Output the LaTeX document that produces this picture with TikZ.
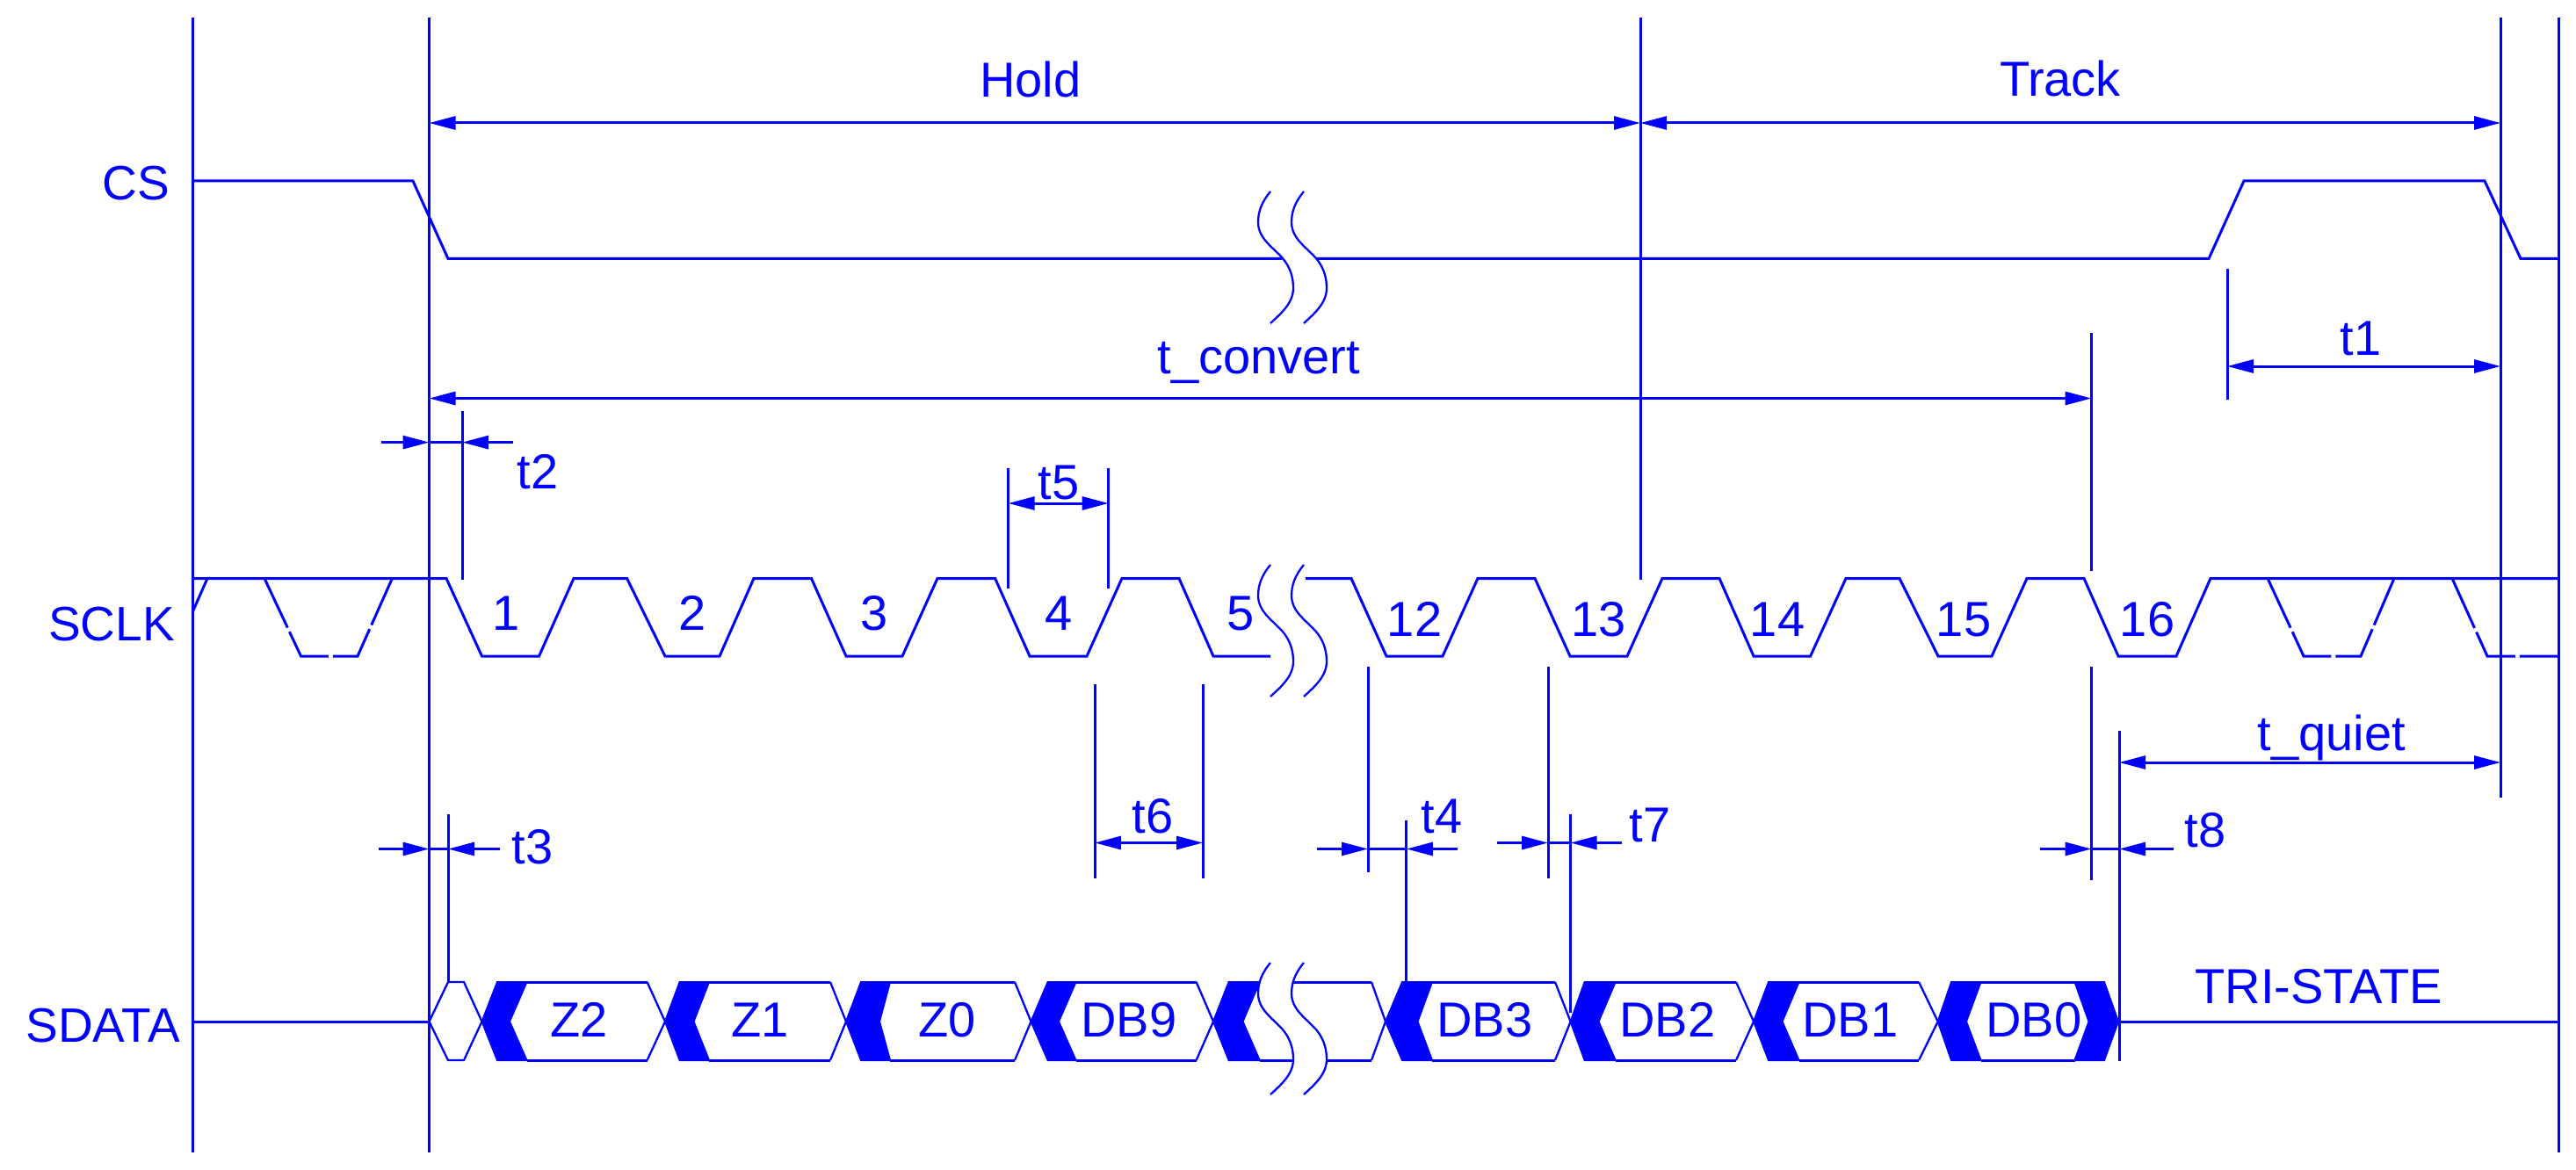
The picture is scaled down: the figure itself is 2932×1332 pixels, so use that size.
\documentclass[tikz,border=0pt]{standalone}
\usepackage{fontspec}
\setmainfont{Liberation Sans}
\usetikzlibrary{arrows.meta}
\definecolor{wire}{RGB}{0,0,255}
\tikzset{
  x=1pt,y=-1pt,
  wave/.style={draw=wire,line width=3pt,line join=miter},
  guide/.style={draw=wire,line width=3pt},
  dashwave/.style={draw=wire,line width=3pt,dash pattern=on 62pt off 5pt},
  bent/.style={draw=wire,line width=2.3pt},
  span/.style={draw=wire,line width=3pt,{Triangle[length=30pt,width=15pt]}-{Triangle[length=30pt,width=15pt]}},
  tohead/.style={draw=wire,line width=3pt,-{Triangle[length=30pt,width=15pt]}},
  lab/.style={text=wire,font=\fontsize{56}{56}\selectfont,inner sep=0pt,anchor=base},
  sig/.style={text=wire,font=\fontsize{55}{55}\selectfont,inner sep=0pt,anchor=base east},
  chev/.style={fill=wire,draw=wire,line width=2pt,line join=miter},
}
\newcommand{\spanarrow}[4]{% name, x1, x2, y
  \coordinate (#1a) at (#2,#4);
  \coordinate (#1b) at (#3,#4);
  \draw[span] (#1a) -- (#1b);}
\newcommand{\inarrow}[5]{% name, far left, tip left, tip right, far right; at y = \arrowy
  \coordinate (#1a) at (#2,\arrowy);
  \coordinate (#1c) at (#3,\arrowy);
  \coordinate (#1d) at (#4,\arrowy);
  \coordinate (#1e) at (#5,\arrowy);
  \draw[tohead] (#1a) -- (#1c);
  \draw[tohead] (#1e) -- (#1d);
  \draw[guide] (#1c) -- (#1d);}
\newcommand{\breakline}[2]{% x shift, y centre
  \draw[bent] (#1+1446,#2-75) .. controls (#1+1436,#2-63) and (#1+1432,#2-52) .. (#1+1432,#2-40)
    .. controls (#1+1432,#2-22) and (#1+1448,#2-12) .. (#1+1459,#2)
    .. controls (#1+1468,#2+10) and (#1+1472,#2+22) .. (#1+1472,#2+35)
    .. controls (#1+1472,#2+52) and (#1+1458,#2+64) .. (#1+1446,#2+75);}
\newcommand{\breakpair}[1]{\breakline{0}{#1}\breakline{38}{#1}}
\begin{document}
\begin{tikzpicture}
\useasboundingbox[fill=white] (0,0) rectangle (2932,1332);

% long vertical guides
\draw[guide] (219,20) -- (219,1312);
\draw[guide] (488.5,20) -- (488.5,1312);
\draw[guide] (1867,20) -- (1867,660);
\draw[guide] (2846,20) -- (2846,908);
\draw[guide] (2912,20) -- (2912,1312);

% CS waveform
\draw[wave] (219,206) -- (470,206) -- (510,294.5) -- (1459,294.5);
\draw[wave] (1499,294.5) -- (2514,294.5) -- (2554,206) -- (2828,206) -- (2869,294.5) -- (2912,294.5);

% SCLK waveform
\draw[wave] (219,658.5) -- (508,658.5) -- (548.5,747) -- (613.5,747) -- (653,658.5) -- (713.6,658.5)
  -- (757,747) -- (819,747) -- (858,658.5) -- (923.5,658.5) -- (963,747) -- (1027,747) -- (1067,658.5)
  -- (1132.6,658.5) -- (1172,747) -- (1237,747) -- (1277,658.5) -- (1342,658.5) -- (1381,747) -- (1446,747);
\draw[wave] (1486,658.5) -- (1538,658.5) -- (1578,747) -- (1642,747) -- (1682,658.5) -- (1747,658.5)
  -- (1787,747) -- (1852,747) -- (1892,658.5) -- (1957,658.5) -- (1996,747) -- (2060.6,747) -- (2101,658.5)
  -- (2162,658.5) -- (2206,747) -- (2267,747) -- (2307,658.5) -- (2372,658.5) -- (2411,747) -- (2477,747)
  -- (2516,658.5) -- (2912,658.5);
% SCLK don't-care dashes
\draw[dashwave] (219.5,696) -- (236,658.5);
\draw[dashwave] (301,658.5) -- (342.5,747) -- (407,747) -- (446.4,658.5);
\draw[dashwave] (2581,658.5) -- (2622,747) -- (2687,747) -- (2725,658.5);
\draw[dashwave] (2791,658.5) -- (2831,747) -- (2912,747);

% SDATA
\draw[wave] (219,1163) -- (488.5,1163);
\draw[bent] (488.5,1163) -- (510,1118) -- (528,1118) -- (548.5,1163) -- (528,1207) -- (510,1207) -- cycle;
\draw[wave] (2412,1163) -- (2912,1163);
\foreach \tip/\ot/\it/\im/\tr/\nx in {
  548.5/566/599.5/580/736.6/757,
  757/773.6/807/789.5/945/963,
  963/980/1013/1001/1155/1173.5,
  1173.5/1192.6/1224.5/1205/1361.6/1381,
  1577/1596/1630/1613.5/1770/1787.6,
  1787.6/1803.6/1838.6/1819.5/1976/1996,
  1996/2013/2047.5/2028.5/2184/2205.7}{
  \fill[chev] (\tip,1163) -- (\ot,1118) -- (\it,1118) -- (\im,1163) -- (\it,1207) -- (\ot,1207) -- cycle;
  \draw[wave] (\it,1118) -- (\tr,1118);
  \draw[wave] (\it,1207) -- (\tr,1207);
  \draw[bent] (\tr,1118) -- (\nx,1163) -- (\tr,1207);
}
% segment hidden by the break
\fill[chev] (1381,1163) -- (1398.6,1118) -- (1433.7,1118) -- (1414.5,1163) -- (1433.7,1207) -- (1398.6,1207) -- cycle;
\draw[wave] (1433.7,1207) -- (1472,1207);
\draw[wave] (1471,1118) -- (1561,1118);
\draw[wave] (1509,1207) -- (1561,1207);
\draw[bent] (1561,1118) -- (1577,1163) -- (1561,1207);
% last segment with both chevrons
\fill[chev] (2205.7,1163) -- (2221,1118) -- (2254.5,1118) -- (2238,1163) -- (2254.5,1207) -- (2221,1207) -- cycle;
\fill[chev] (2411,1163) -- (2395,1118) -- (2361.5,1118) -- (2377.5,1163) -- (2361.5,1207) -- (2395,1207) -- cycle;
\draw[wave] (2254.5,1118) -- (2361.5,1118);
\draw[wave] (2254.5,1207) -- (2361.5,1207);

% break marks
\breakpair{293}
\breakpair{718}
\breakpair{1171}

% span arrows and witness lines
\spanarrow{hold}{488.5}{1867}{140}
\spanarrow{track}{1867}{2846}{140}
\spanarrow{conv}{488.5}{2380.5}{453.5}
\spanarrow{one}{2535}{2846}{417}
\spanarrow{quiet}{2412}{2846}{868}
\spanarrow{five}{1147.7}{1261.7}{573}
\spanarrow{six}{1246}{1369}{959.5}
\draw[guide] (2380.5,379) -- (2380.5,650);
\draw[guide] (2380.5,759) -- (2380.5,1002);
\draw[guide] (2412,832) -- (2412,1208);
\draw[guide] (2535,306) -- (2535,455);
\draw[guide] (1147.7,533) -- (1147.7,670);
\draw[guide] (1261.7,533) -- (1261.7,670);
\draw[guide] (1246,778.6) -- (1246,999.5);
\draw[guide] (1369,778.6) -- (1369,999.5);
\draw[guide] (526,467.7) -- (526,660);
\draw[guide] (510,927) -- (510,1118);
\draw[guide] (1557,759) -- (1557,993);
\draw[guide] (1600.8,933.5) -- (1600.8,1118);
\draw[guide] (1762,759) -- (1762,999.5);
\draw[guide] (1787.6,927) -- (1787.6,1153);

% short inward arrows
\def\arrowy{503.6}\inarrow{two}{433.7}{488.5}{526}{584}
\def\arrowy{966.5}\inarrow{three}{430.5}{488.5}{510}{569}
\def\arrowy{966.5}\inarrow{four}{1498.7}{1557}{1600.8}{1659}
\def\arrowy{959.5}\inarrow{seven}{1704}{1762}{1787.6}{1846}
\def\arrowy{966.5}\inarrow{eight}{2322}{2380.5}{2412}{2474}

% signal names
\node[sig] (csname) at (193,228) {CS};
\node[sig] (sclkname) at (199,729) {SCLK};
\node[sig] (sdataname) at (205,1186) {SDATA};

% clock numbers
\foreach \nm/\px/\py/\tx in {c1/576/717/1,c2/788/717/2,c3/995/717/3,c4/1205/717/4,c5/1412/717/5,
  c12/1610/724/12,c13/1819.5/724/13,c14/2023/724/14,c15/2235/724/15,c16/2444/724/16}
  \node[lab] (\nm) at (\px,\py) {\tx};

% data labels
\foreach \nm/\px/\tx in {z2/659/Z2,z1/865/Z1,z0/1078/Z0,db9/1285/DB9,db3/1690/DB3,db2/1898/DB2,db1/2106/DB1,db0/2315/DB0}
  \node[lab] (\nm) at (\px,1180) {\tx};
\node[lab] (tristate) at (2639,1142) {TRI-STATE};

% timing labels
\node[lab] (holdtxt) at (1173,111) {Hold};
\node[lab] (tracktxt) at (2345,110) {Track};
\node[lab] (convtxt) at (1433,425) {t\_convert};
\node[lab] (t1txt) at (2687,404) {t1};
\node[lab] (t2txt) at (612,556) {t2};
\node[lab] (t3txt) at (606,983) {t3};
\node[lab] (t4txt) at (1641,948) {t4};
\node[lab] (t5txt) at (1205,568) {t5};
\node[lab] (t6txt) at (1312,948) {t6};
\node[lab] (t7txt) at (1878,958) {t7};
\node[lab] (t8txt) at (2510,964) {t8};
\node[lab] (quiettxt) at (2654,854) {t\_quiet};
\end{tikzpicture}
\end{document}
